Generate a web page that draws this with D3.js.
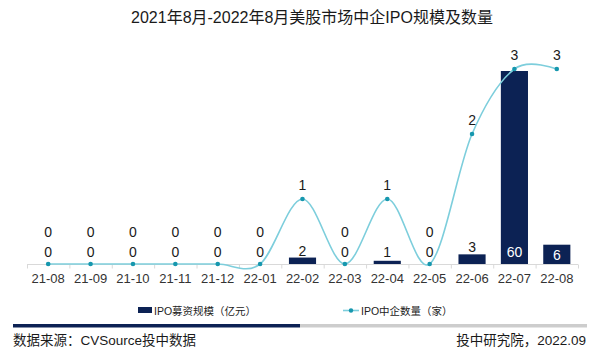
<!DOCTYPE html>
<html>
<head>
<meta charset="utf-8">
<script src="https://cdn.jsdelivr.net/npm/d3@7/dist/d3.min.js"></script>
<style>
  html, body { margin: 0; padding: 0; background: #ffffff; }
  svg { display: block; }
  text { font-family: "Liberation Sans", "Noto Sans CJK SC", sans-serif; }
</style>
</head>
<body>
<svg id="chart" width="600" height="356"></svg>
<script>
const categories = ["21-08","21-09","21-10","21-11","21-12","22-01","22-02","22-03","22-04","22-05","22-06","22-07","22-08"];
const ipoScale = [0, 0, 0, 0, 0, 0, 2, 0, 1, 0, 3, 60, 6];   // IPO募资规模（亿元）
const ipoCount = [0, 0, 0, 0, 0, 0, 1, 0, 1, 0, 2, 3, 3];    // IPO中企数量（家）
const titleText = "2021年8月-2022年8月美股市场中企IPO规模及数量";
const legendLabels = ["IPO募资规模（亿元）", "IPO中企数量（家）"];
const sourceText = "数据来源：CVSource投中数据";
const creditText = "投中研究院，2022.09";

const navy = "#0c2254";
const lineColor = "#7dcedc";
const pointColor = "#1697ae";

const svg = d3.select("#chart");
const baseY = 264;

const x = d3.scaleBand().domain(categories).range([27, 578]).paddingInner(0.36).paddingOuter(0.18);
const yBar = d3.scaleLinear().domain([0, 60]).range([baseY, 71]);
const yLine = d3.scaleLinear().domain([0, 3]).range([baseY, 69]);
const cx = d => x(d) + x.bandwidth() / 2;

// title
svg.append("text").attr("x", 312).attr("y", 17).attr("text-anchor", "middle")
  .attr("dominant-baseline", "central").attr("font-size", 16).attr("fill", "#1a1a1a").text(titleText);

// bars
svg.append("g").selectAll("rect").data(categories).join("rect")
  .attr("x", d => x(d)).attr("width", x.bandwidth())
  .attr("y", (d, i) => yBar(ipoScale[i]))
  .attr("height", (d, i) => baseY - yBar(ipoScale[i]))
  .attr("fill", navy);

// x axis
const axisG = svg.append("g").attr("transform", `translate(0,${baseY + 0.5})`);
const xAxis = d3.axisBottom(x).tickSize(0).tickPadding(9);
axisG.call(xAxis);
axisG.select(".domain").attr("stroke", "#d9d9d9").attr("d", `M${x.range()[0]},0H${x.range()[1]}`);
axisG.selectAll(".tick text").attr("font-size", 13).attr("fill", "#333").attr("font-family", "Liberation Sans, sans-serif");
const step = x.step();
axisG.append("g").selectAll("line").data(d3.range(categories.length + 1)).join("line")
  .attr("x1", i => x.range()[0] + i * step + 0.5).attr("x2", i => x.range()[0] + i * step + 0.5)
  .attr("y1", 0).attr("y2", 4).attr("stroke", "#d9d9d9");

// line
const line = d3.line().x((d, i) => cx(categories[i])).y(d => yLine(d)).curve(d3.curveCardinal.tension(0));
svg.append("path").datum(ipoCount).attr("d", line).attr("fill", "none")
  .attr("stroke", lineColor).attr("stroke-width", 1.6);
svg.append("g").selectAll("circle").data(ipoCount).join("circle")
  .attr("cx", (d, i) => cx(categories[i])).attr("cy", d => yLine(d)).attr("r", 2.3).attr("fill", pointColor);

// bar labels
svg.append("g").selectAll("text").data(ipoScale).join("text")
  .attr("x", (d, i) => cx(categories[i]))
  .attr("y", d => d >= 5 ? Math.max(yBar(d) + 10, baseY - 12) : Math.min(yBar(d) - 7, baseY - 12))
  .attr("text-anchor", "middle").attr("dominant-baseline", "central")
  .attr("font-size", 14).attr("fill", d => d >= 5 ? "#ffffff" : "#1a1a1a")
  .text(d => d);

// line labels
svg.append("g").selectAll("text").data(ipoCount).join("text")
  .attr("x", (d, i) => cx(categories[i]))
  .attr("y", d => d === 0 ? yLine(d) - 32 : yLine(d) - 14)
  .attr("text-anchor", "middle").attr("dominant-baseline", "central")
  .attr("font-size", 14).attr("fill", "#1a1a1a")
  .text(d => d);

// legend
const lg = svg.append("g");
lg.append("rect").attr("x", 138).attr("y", 307).attr("width", 14).attr("height", 6).attr("fill", navy);
lg.append("text").attr("x", 154).attr("y", 310.5).attr("dominant-baseline", "central")
  .attr("font-size", 10.5).attr("fill", "#222").text(legendLabels[0]);
lg.append("line").attr("x1", 343).attr("x2", 359).attr("y1", 310.5).attr("y2", 310.5)
  .attr("stroke", lineColor).attr("stroke-width", 1.6);
lg.append("circle").attr("cx", 351).attr("cy", 310.5).attr("r", 2.2).attr("fill", pointColor);
lg.append("text").attr("x", 361).attr("y", 310.5).attr("dominant-baseline", "central")
  .attr("font-size", 10.5).attr("fill", "#222").text(legendLabels[1]);

// footer
svg.append("rect").attr("x", 13).attr("y", 324).attr("width", 287).attr("height", 3.5).attr("fill", navy);
svg.append("rect").attr("x", 300).attr("y", 324).attr("width", 287).attr("height", 3.5).attr("fill", "#cdcdcd");
svg.append("text").attr("x", 13).attr("y", 340).attr("dominant-baseline", "central")
  .attr("font-size", 13.5).attr("fill", "#1a1a1a").text(sourceText);
svg.append("text").attr("x", 586).attr("y", 340).attr("text-anchor", "end").attr("dominant-baseline", "central")
  .attr("font-size", 13.5).attr("fill", "#1a1a1a").text(creditText);
</script>
</body>
</html>
